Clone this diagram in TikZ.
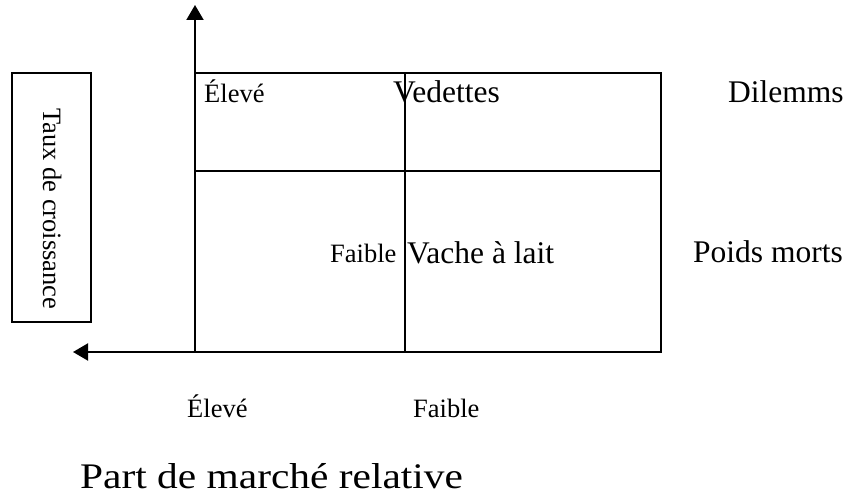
\documentclass[tikz,border=0pt]{standalone}
\usepackage{fontspec}
\setmainfont{Liberation Serif}
\usetikzlibrary{arrows.meta}

\tikzset{
  big/.style={font=\fontsize{31.5}{31.5}\selectfont, inner sep=0pt, anchor=base west},
  small/.style={font=\fontsize{26.5}{26.5}\selectfont, inner sep=0pt, anchor=base west},
  title/.style={font=\fontsize{36}{36}\selectfont, inner sep=0pt, anchor=base west},
  frame/.style={draw=black, line width=1.2pt, inner sep=0pt},
  divider/.style={draw=black, line width=1.2pt},
  axis/.style={draw=black, line width=2pt, -{Triangle[length=15pt,width=17pt]}}
}

\begin{document}
\begin{tikzpicture}[x=1pt, y=-1pt]
  \useasboundingbox (0,0) rectangle (856,495);

  % label box for the vertical axis
  \node[frame, minimum width=79pt, minimum height=249pt] (ylabelbox) at (51.5,197.5) {};
  \node[small, rotate=-90] (ylabel) at (43,108) {Taux de croissance};

  % the four-cell matrix
  \node[frame, minimum width=466pt, minimum height=279pt] (grid) at (428,212.5) {};
  \coordinate (vtop) at (405,73);
  \coordinate (vbot) at (405,352);
  \coordinate (hleft) at (195,171);
  \coordinate (hright) at (661,171);
  \draw[divider] (vtop) -- (vbot);
  \draw[divider] (hleft) -- (hright);

  % axes
  \coordinate (origin) at (195,352);
  \coordinate (ytip) at (195,5);
  \coordinate (xtip) at (73,352);
  \draw[axis] (origin) -- (ytip);
  \draw[axis] (origin) -- (xtip);

  % cell and side labels
  \node[small] (yhigh) at (204,102) {Élevé};
  \node[big] (stars) at (393,102) {Vedettes};
  \node[big] (dilemmas) at (728,102) {Dilemms};
  \node[small] (ylow) at (330,262) {Faible};
  \node[big] (cows) at (407,263) {Vache à lait};
  \node[big] (dogs) at (693,262) {Poids morts};

  % horizontal axis labels
  \node[small] (xhigh) at (187,417) {Élevé};
  \node[small] (xlow) at (413,417) {Faible};
  \node[title] (xlabel) at (80,488) {\scalebox{1.15}[1]{Part de marché relative}};
\end{tikzpicture}
\end{document}
